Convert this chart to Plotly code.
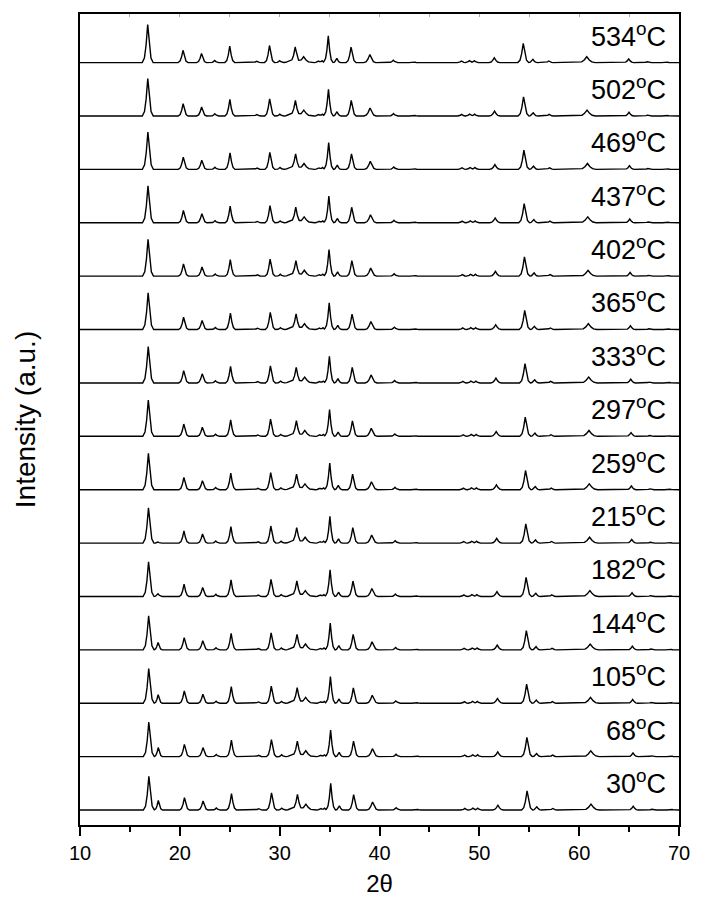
import numpy as np
import plotly.graph_objects as go

# ---------------- data ----------------
# temperatures, bottom trace first
TEMPS = [30, 68, 105, 144, 182, 215, 259, 297, 333, 365, 402, 437, 469, 502, 534]

# diffraction peaks (2theta at 534 C), relative height, half width at base (deg)
PEAK_POS = [16.78, 17.72, 20.32, 22.17, 23.49, 25.00, 27.70, 28.98, 30.00, 31.00,
            31.56, 32.40, 33.85, 34.25, 34.87, 35.73, 37.15, 39.03, 41.38,
            43.40, 48.20, 49.00, 49.50, 51.50, 54.40, 55.37, 56.96, 60.76, 64.96,
            66.80, 68.70]
PEAK_H = [0.70, 0.00, 0.23, 0.17, 0.04, 0.31, 0.025, 0.32, 0.035, 0.045,
          0.29, 0.11, 0.035, 0.035, 0.50, 0.08, 0.29, 0.15, 0.045,
          0.02, 0.03, 0.035, 0.035, 0.09, 0.36, 0.06, 0.03, 0.11, 0.07,
          0.015, 0.02]
PEAK_HW = [0.55, 0.42, 0.50, 0.50, 0.40, 0.50, 0.45, 0.50, 0.40, 0.65,
           0.55, 0.80, 0.40, 0.35, 0.48, 0.40, 0.50, 0.60, 0.45,
           0.45, 0.40, 0.40, 0.40, 0.55, 0.55, 0.45, 0.45, 0.85, 0.50,
           0.45, 0.45]

# per-temperature values (bottom trace first)
MAIN_H = [0.63, 0.65, 0.65, 0.64, 0.65, 0.66, 0.68, 0.68, 0.68, 0.69, 0.69, 0.69, 0.70, 0.70, 0.71]
EXTRA_H = [0.18, 0.17, 0.16, 0.14, 0.05, 0.02, 0.0, 0.0, 0.0, 0.0, 0.0, 0.0, 0.0, 0.0, 0.0]
SHIFT60 = [0.42, 0.40, 0.37, 0.34, 0.31, 0.28, 0.25, 0.22, 0.19, 0.16, 0.13, 0.10, 0.07, 0.03, 0.0]

X_TICKS = [10, 20, 30, 40, 50, 60, 70]

# peak profile shape (style)
SHAPE_DX = np.array([-1, -0.6, -0.3, 0, 0.3, 0.6, 1])
SHAPE_Y = np.array([0, 0.12, 0.45, 1, 0.45, 0.12, 0])


def pattern(i):
    pos = np.array(PEAK_POS) * (1 + SHIFT60[i] / 60)
    h = np.array(PEAK_H, dtype=float)
    h[0] = MAIN_H[i]
    h[1] = EXTRA_H[i]
    hw = np.array(PEAK_HW)
    xs = [10.0, 70.0]
    for p, w in zip(pos, hw):
        xs.extend(p + SHAPE_DX * w)
    xs = np.unique(np.clip(xs, 10, 70))
    ys = np.zeros_like(xs)
    for p, hh, w in zip(pos, h, hw):
        if hh > 0:
            ys += hh * np.interp(xs, p + SHAPE_DX * w, SHAPE_Y, left=0, right=0)
    return xs, ys


FONT = "Liberation Sans, Arial, sans-serif"
fig = go.Figure()
for i, t in enumerate(TEMPS):
    xs, ys = pattern(i)
    fig.add_trace(go.Scatter(x=xs, y=ys + i, mode="lines",
                             line=dict(color="black", width=1.4),
                             showlegend=False, hoverinfo="skip"))
    fig.add_annotation(x=68.9, y=i + 0.17, xref="x", yref="y",
                       text=f"{t}<sup>o</sup>C", showarrow=False,
                       xanchor="right", yanchor="bottom",
                       font=dict(family=FONT, size=27, color="black"))

fig.update_layout(
    width=702, height=905,
    margin=dict(l=80, r=16, t=12, b=78),
    paper_bgcolor="white", plot_bgcolor="white",
    font=dict(family=FONT, color="black"),
    xaxis=dict(range=[10, 70], tickvals=X_TICKS, ticks="outside", ticklen=9,
               tickwidth=2, tickcolor="black",
               minor=dict(dtick=5, ticks="outside", ticklen=5, tickwidth=2, tickcolor="black"),
               showline=True, linewidth=2, linecolor="black", mirror=True,
               showgrid=False, zeroline=False,
               tickfont=dict(size=20, family=FONT),
               title=dict(text="2θ", font=dict(size=24, family=FONT), standoff=12)),
    yaxis=dict(range=[-0.28, 14.91], showticklabels=False, ticks="",
               showline=True, linewidth=2, linecolor="black", mirror=True,
               showgrid=False, zeroline=False,
               title=dict(text="Intensity (a.u.)", font=dict(size=28, family=FONT), standoff=34)),
    xaxis2=dict(range=[10, 70], overlaying="x", side="top", matches="x",
                tickvals=[15, 20, 25, 30, 35, 40, 45, 50, 55, 60, 65], ticks="inside",
                ticklen=3, tickwidth=1, tickcolor="#aaaaaa", showticklabels=False,
                showgrid=False, zeroline=False, showline=False),
)
fig.add_trace(go.Scatter(x=[10], y=[-1], xaxis="x2", mode="markers",
                         marker=dict(opacity=0), showlegend=False, hoverinfo="skip"))

fig.write_html("out.html")
